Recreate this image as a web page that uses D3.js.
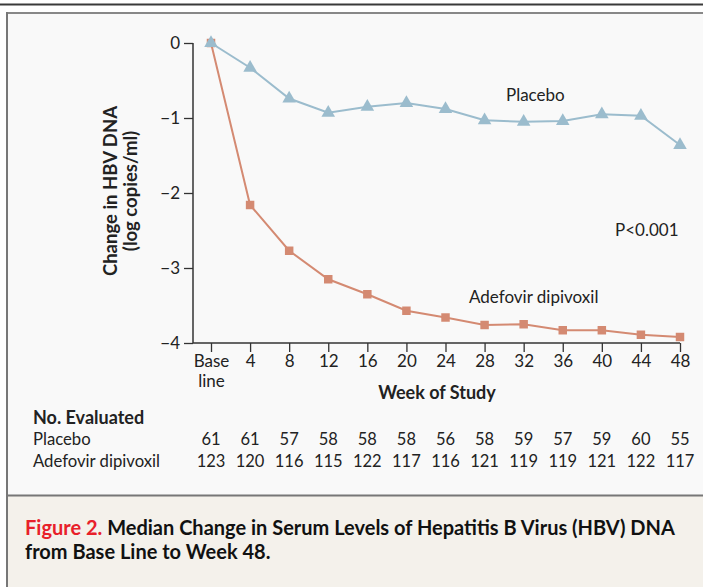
<!DOCTYPE html>
<html><head><meta charset="utf-8">
<script src="https://cdn.jsdelivr.net/npm/d3@7"></script>
<style>body{margin:0;background:#fff;}svg{display:block;}</style>
</head><body>
<svg id="chart" width="703" height="587"></svg>
<script>
const weeks = ["Base line","4","8","12","16","20","24","28","32","36","40","44","48"];
const placebo = [0,-0.33,-0.74,-0.93,-0.85,-0.80,-0.88,-1.03,-1.05,-1.04,-0.95,-0.97,-1.36];
const adefovir = [0,-2.16,-2.77,-3.15,-3.35,-3.57,-3.66,-3.76,-3.75,-3.83,-3.83,-3.89,-3.92];
const yTicks = [0,-1,-2,-3,-4];
const nPlacebo = [61,61,57,58,58,58,56,58,59,57,59,60,55];
const nAdefovir = [123,120,116,115,122,117,116,121,119,119,121,122,117];

const font = "Lato, 'Open Sans', sans-serif";
const svg = d3.select("#chart");

// frame
svg.append("rect").attr("x",0).attr("y",0).attr("width",703).attr("height",587).attr("fill","#fff");
svg.append("rect").attr("x",0).attr("y",3.5).attr("width",703).attr("height",2).attr("fill","#3a3a3a");
svg.append("rect").attr("x",6).attr("y",12).attr("width",710).attr("height",483).attr("fill","#f9f9f9");
svg.append("rect").attr("x",6).attr("y",495).attr("width",710).attr("height",100).attr("fill","#f4f1eb");
svg.append("line").attr("x1",7).attr("x2",703).attr("y1",13).attr("y2",13).attr("stroke","#888").attr("stroke-width",2);
svg.append("line").attr("x1",7).attr("x2",7).attr("y1",12).attr("y2",587).attr("stroke","#777").attr("stroke-width",2);
svg.append("line").attr("x1",7).attr("x2",703).attr("y1",495.5).attr("y2",495.5).attr("stroke","#777").attr("stroke-width",2);

const x = d3.scalePoint().domain(weeks).range([211,680]);
const y = d3.scaleLinear().domain([-4,0]).range([343,43]);

// axes
const yAxis = d3.axisLeft(y).tickValues(yTicks).tickSize(9).tickPadding(4)
  .tickFormat(d => d===0 ? "0" : "\u2212" + Math.abs(d));
const gy = svg.append("g").attr("transform","translate(193,0)").call(yAxis);
gy.select(".domain").attr("d","M0,43V343");
const xAxis = d3.axisBottom(x).tickSize(9).tickPadding(4).tickFormat(() => "");
const gx = svg.append("g").attr("transform","translate(0,343)").call(xAxis);
gx.select(".domain").attr("d","M193,0H680");
[gx,gy].forEach(g=>{
  g.selectAll(".domain").attr("stroke","#333").attr("stroke-width",1.5);
  g.selectAll(".tick line").attr("stroke","#333").attr("stroke-width",1.3);
  g.selectAll("text").attr("font-family",font).attr("font-size",17).attr("fill","#222");
});
// x tick labels (two-line base line)
gx.selectAll(".tick").each(function(d){
  const t = d3.select(this).select("text").attr("y",12).attr("dy",null);
  t.text(null);
  const parts = d==="Base line" ? ["Base","line"] : [d];
  parts.forEach((p,i)=>t.append("tspan").attr("x",0).attr("dy", i===0 ? "0.71em" : "1.2em").text(p));
});

svg.append("text").attr("x",437).attr("y",399).attr("text-anchor","middle")
  .attr("font-family",font).attr("font-weight","bold").attr("font-size",18).attr("fill","#222").text("Week of Study");

const yt = svg.append("text").attr("transform","translate(0,191) rotate(-90)")
  .attr("text-anchor","middle").attr("font-family",font).attr("font-weight","bold").attr("font-size",18.5).attr("fill","#222");
yt.append("tspan").attr("x",0).attr("y",117).text("Change in HBV DNA");
yt.append("tspan").attr("x",0).attr("y",137).text("(log copies/ml)");

// lines
const line = d3.line().x((d,i)=>x(weeks[i])).y(d=>y(d));
const cP = "#9bbccd", cA = "#d48a72";
svg.append("path").datum(adefovir).attr("d",line).attr("fill","none").attr("stroke",cA).attr("stroke-width",2);
svg.append("path").datum(placebo).attr("d",line).attr("fill","none").attr("stroke",cP).attr("stroke-width",2);
svg.selectAll(".sq").data(adefovir).enter().append("path")
  .attr("transform",(d,i)=>`translate(${x(weeks[i])},${y(d)})`)
  .attr("d",d3.symbol(d3.symbolSquare,72)).attr("fill",cA);
svg.selectAll(".tri").data(placebo).enter().append("path")
  .attr("transform",(d,i)=>`translate(${x(weeks[i])},${y(d)})`)
  .attr("d",d3.symbol(d3.symbolTriangle,80)).attr("fill",cP);

const lab = (t,xx,yy,fs)=>svg.append("text").attr("x",xx).attr("y",yy).attr("font-family",font)
  .attr("font-size",fs||17).attr("fill","#222").text(t);
lab("Placebo",506,101);
lab("P<0.001",615,236);
lab("Adefovir dipivoxil",469,303);

// table
svg.append("text").attr("x",33).attr("y",424).attr("font-family",font).attr("font-weight","bold")
  .attr("font-size",18).attr("fill","#222").text("No. Evaluated");
lab("Placebo",33,445,16.7);
lab("Adefovir dipivoxil",33,467,16.7);
svg.selectAll(".np").data(nPlacebo).enter().append("text")
  .attr("x",(d,i)=>x(weeks[i])).attr("y",445).attr("text-anchor","middle")
  .attr("font-family",font).attr("font-size",16.5).attr("fill","#222").text(d=>d);
svg.selectAll(".na").data(nAdefovir).enter().append("text")
  .attr("x",(d,i)=>x(weeks[i])).attr("y",467).attr("text-anchor","middle")
  .attr("font-family",font).attr("font-size",16.5).attr("fill","#222").text(d=>d);

// caption
const cap = svg.append("text").attr("x",25).attr("y",535).attr("font-family",font)
  .attr("font-weight","bold").attr("font-size",20).attr("fill","#111");
cap.append("tspan").attr("fill","#e8202a").text("Figure 2.");
cap.append("tspan").text(" Median Change in Serum Levels of Hepatitis B Virus (HBV) DNA");
svg.append("text").attr("x",25).attr("y",559).attr("font-family",font)
  .attr("font-weight","bold").attr("font-size",20).attr("fill","#111").text("from Base Line to Week 48.");
</script>
</body></html>
